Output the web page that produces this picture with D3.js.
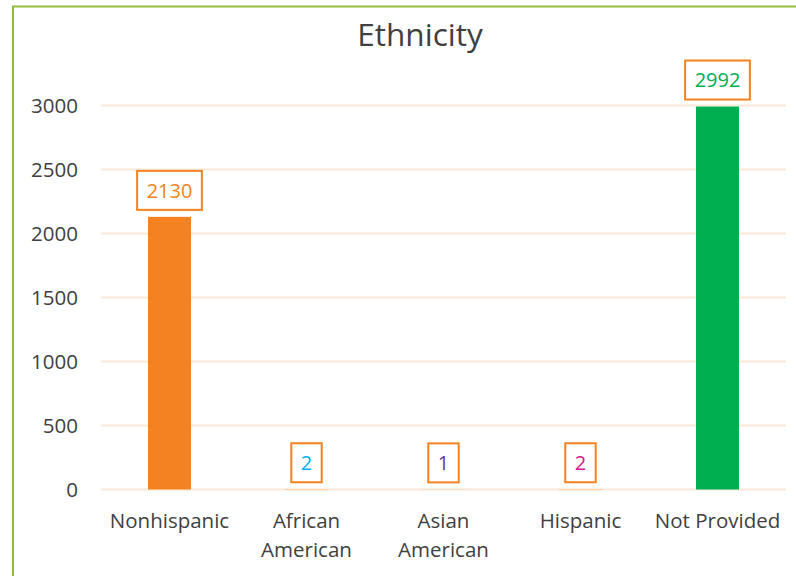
<!DOCTYPE html>
<html>
<head>
<meta charset="utf-8">
<script src="https://cdn.jsdelivr.net/npm/d3@7"></script>
<style>
  html, body { margin: 0; padding: 0; background: #fff; }
  svg { display: block; font-family: "Open Sans", sans-serif; }
</style>
</head>
<body>
<svg id="chart" width="796" height="576"></svg>
<script>
// Ethnicity counts
const categories = ["Nonhispanic", "African American", "Asian American", "Hispanic", "Not Provided"];
const counts = [2130, 2, 1, 2, 2992];
const barColors = ["#F58220", null, null, null, "#00B050"];
const labelColors = ["#F58220", "#00B0F0", "#7030A0", "#D6168C", "#00B050"];
const yTicks = [0, 500, 1000, 1500, 2000, 2500, 3000];

const svg = d3.select("#chart");

// outer chart frame (runs past the right and bottom edges)
svg.append("rect")
  .attr("x", 13).attr("y", 6.5)
  .attr("width", 820).attr("height", 620)
  .attr("fill", "none")
  .attr("stroke", "#92BD3A")
  .attr("stroke-width", 2);

const x = d3.scaleBand()
  .domain(categories)
  .range([101, 786])
  .paddingInner(0.686)
  .paddingOuter(0.343);

const y = d3.scaleLinear()
  .domain([0, 3000])
  .range([489.5, 105.5]);

// title
svg.append("text")
  .attr("x", 420).attr("y", 46)
  .attr("text-anchor", "middle")
  .attr("font-size", 31.5)
  .attr("fill", "#404040")
  .text("Ethnicity");

// gridlines
svg.append("g")
  .selectAll("line")
  .data(yTicks)
  .join("line")
  .attr("x1", 101).attr("x2", 786)
  .attr("y1", d => y(d)).attr("y2", d => y(d))
  .attr("stroke", "#FCE8D8")
  .attr("stroke-width", 2);

// y axis labels
const yAxis = d3.axisLeft(y).tickValues(yTicks).tickFormat(d3.format("d")).tickSize(0).tickPadding(0);
const yg = svg.append("g").attr("transform", "translate(78,0)").call(yAxis);
yg.select(".domain").remove();
yg.selectAll("text")
  .attr("font-size", 20.5)
  .attr("font-family", "Open Sans, sans-serif")
  .attr("fill", "#404040")
  .attr("dy", "0.36em");

// x axis labels (wrapped onto two lines)
const xAxis = d3.axisBottom(x).tickSize(0).tickPadding(0);
const xg = svg.append("g").call(xAxis);
xg.select(".domain").remove();
xg.selectAll("text").remove();
xg.selectAll(".tick").each(function(d) {
  const lines = d === "Not Provided" ? [d] : d.split(" ");
  const t = d3.select(this).append("text")
    .attr("text-anchor", "middle")
    .attr("font-size", 20.5)
    .attr("font-family", "Open Sans, sans-serif")
    .attr("fill", "#404040");
  lines.forEach((w, i) => {
    t.append("tspan").attr("x", 0).attr("y", 528 + i * 29).text(w);
  });
});

// bars
svg.append("g")
  .selectAll("rect")
  .data(categories.map((c, i) => ({ c, v: counts[i], color: barColors[i] })))
  .join("rect")
  .attr("x", d => x(d.c))
  .attr("width", x.bandwidth())
  .attr("y", d => y(d.v))
  .attr("height", d => y(0) - y(d.v))
  .attr("fill", d => d.color || "#F58220");

// boxed value labels
const lab = svg.append("g")
  .selectAll("g")
  .data(categories.map((c, i) => ({ c, v: counts[i], color: labelColors[i] })))
  .join("g")
  .attr("transform", d => `translate(${x(d.c) + x.bandwidth() / 2},${y(d.v) - 7})`);

lab.each(function(d) {
  const g = d3.select(this);
  const t = g.append("text")
    .attr("text-anchor", "middle")
    .attr("y", -19.5)
    .attr("dy", "0.36em")
    .attr("font-size", 20)
    .attr("fill", d.color)
    .text(d.v);
  const w = t.node().getComputedTextLength() + 19;
  g.insert("rect", "text")
    .attr("x", -w / 2).attr("y", -39)
    .attr("width", w).attr("height", 39)
    .attr("fill", "#fff")
    .attr("stroke", "#F58220")
    .attr("stroke-width", 2);
});
</script>
</body>
</html>
